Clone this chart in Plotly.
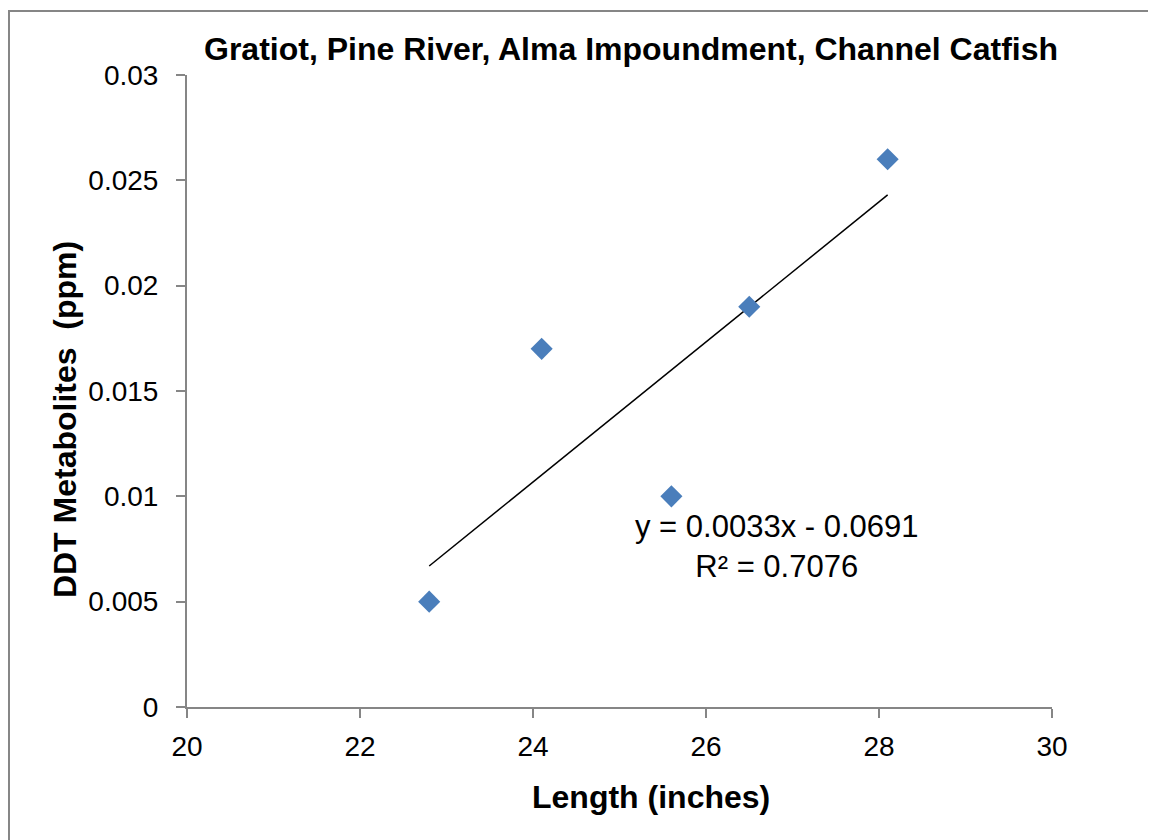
import numpy as np
import plotly.graph_objects as go

length_in = [22.8, 24.1, 25.6, 26.5, 28.1]
ddt_ppm = [0.005, 0.017, 0.010, 0.019, 0.026]
x_ticks = [20, 22, 24, 26, 28, 30]
y_ticks = [0, 0.005, 0.01, 0.015, 0.02, 0.025, 0.03]
y_tick_labels = ["0", "0.005", "0.01", "0.015", "0.02", "0.025", "0.03"]

slope, intercept = np.polyfit(length_in, ddt_ppm, 1)
fit_x = [min(length_in), max(length_in)]
fit_y = [slope * v + intercept for v in fit_x]

FONT = "Liberation Sans, Arial, sans-serif"
AX = "#868686"

fig = go.Figure()
fig.add_trace(go.Scatter(x=fit_x, y=fit_y, mode="lines",
                         line=dict(color="black", width=1.5), showlegend=False))
fig.add_trace(go.Scatter(x=length_in, y=ddt_ppm, mode="markers",
                         marker=dict(symbol="diamond", size=17, color="#4A7EBB",
                                     line=dict(width=0)), showlegend=False))

fig.update_layout(
    width=1148, height=832,
    margin=dict(l=179, r=104, t=67, b=133, autoexpand=False),
    paper_bgcolor="white", plot_bgcolor="white",
    font=dict(family=FONT, color="black", size=28),
    title=dict(text="<b>Gratiot, Pine River, Alma Impoundment, Channel Catfish</b>",
               x=0.5427, xanchor="center", y=0.9507, yanchor="middle",
               font=dict(size=32, family=FONT)),
    xaxis=dict(range=[20, 30], tickvals=x_ticks, ticks="outside", ticklen=9,
               tickcolor=AX, tickwidth=2, showline=True, linecolor=AX, linewidth=2,
               showgrid=False, zeroline=False, tickfont=dict(size=28),
               ticklabelstandoff=4),
    yaxis=dict(range=[0, 0.03], tickvals=y_ticks, ticktext=y_tick_labels,
               ticks="outside", ticklen=9, tickcolor=AX, tickwidth=2,
               showline=True, linecolor=AX, linewidth=2, showgrid=False, zeroline=False,
               tickfont=dict(size=28), ticklabelstandoff=12),
    shapes=[dict(type="rect", xref="paper", yref="paper",
                 x0=-0.2058, x1=1.124, y0=-0.4, y1=1.1012,
                 line=dict(color=AX, width=2), fillcolor="rgba(0,0,0,0)", layer="below")],
    annotations=[
        dict(text="y = 0.0033x - 0.0691<br>R² = 0.7076", x=26.82, y=0.0076,
             xref="x", yref="y", xanchor="center", yanchor="middle", showarrow=False,
             font=dict(size=31, family=FONT), align="center"),
        dict(text="<b>Length (inches)</b>", x=0.5364, y=-0.1424, xref="paper", yref="paper",
             xanchor="center", yanchor="middle", showarrow=False,
             font=dict(size=32, family=FONT)),
        dict(text="<b>DDT Metabolites  (ppm)</b>", x=-0.141, y=0.454, xref="paper", yref="paper",
             xanchor="center", yanchor="middle", showarrow=False, textangle=-90,
             font=dict(size=32, family=FONT)),
    ],
)

fig.write_html("out.html")
